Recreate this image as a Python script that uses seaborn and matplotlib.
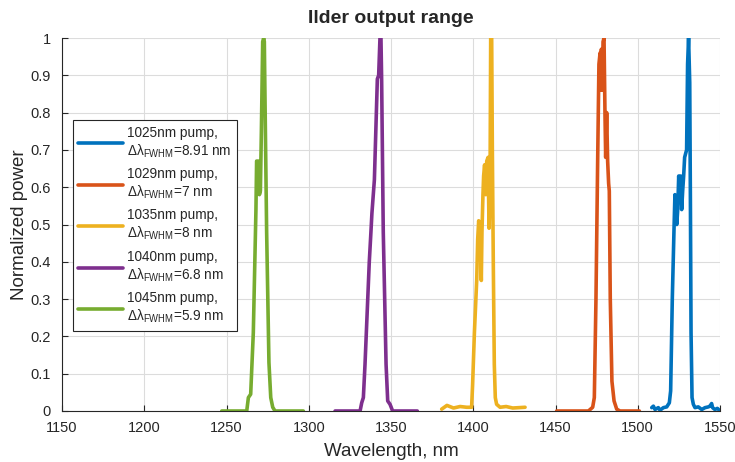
import numpy as np
import pandas as pd
import matplotlib.pyplot as plt
import seaborn as sns

# --- data (wavelength in nm, normalized power) ---
wl_1025 = [1508.5, 1509.5, 1510.5, 1512.5, 1513.5, 1515.6, 1517.6, 1519.2, 1520.0, 1521.0,
           1522.0, 1522.6, 1523.3, 1523.7, 1524.3, 1524.9, 1525.5, 1526.1, 1526.7, 1527.3,
           1527.9, 1528.5, 1529.1, 1529.7, 1530.3, 1530.9, 1531.6, 1532.0, 1532.4, 1533.0,
           1533.8, 1534.8, 1536.8, 1538.9, 1540.9, 1542.9, 1543.9, 1544.9, 1545.5, 1546.9,
           1548.4, 1549.6]
p_1025 = [0.009, 0.013, 0.004, 0.009, 0.002, 0.009, 0.011, 0.022, 0.054, 0.30,
          0.48, 0.58, 0.55, 0.50, 0.54, 0.63, 0.57, 0.63, 0.54, 0.59,
          0.63, 0.68, 0.69, 0.70, 0.93, 1.0, 0.88, 0.57, 0.21, 0.036,
          0.018, 0.009, 0.011, 0.004, 0.009, 0.011, 0.013, 0.02, 0.009, 0.004,
          0.007, 0.002]

wl_1029 = [1450.7, 1470.0, 1472.6, 1473.6, 1474.6, 1475.6, 1476.4, 1477.1, 1477.5, 1477.9,
           1478.5, 1478.9, 1479.5, 1480.1, 1480.5, 1481.1, 1481.7, 1482.3, 1482.7, 1483.3,
           1484.3, 1485.6, 1487.2, 1489.2, 1501.0]
p_1029 = [0, 0, 0.01, 0.036, 0.30, 0.66, 0.93, 0.96, 0.86, 0.97,
          0.86, 0.99, 1.0, 0.79, 0.68, 0.80, 0.67, 0.61, 0.59, 0.30,
          0.08, 0.027, 0.005, 0, 0]

wl_1035 = [1380.8, 1384.0, 1388.0, 1392.0, 1396.0, 1399.0, 1399.6, 1400.7, 1402.1, 1402.7,
           1403.3, 1404.1, 1404.9, 1405.3, 1405.9, 1406.3, 1406.9, 1407.6, 1408.2, 1409.0,
           1409.6, 1410.2, 1410.6, 1411.2, 1411.6, 1412.2, 1412.8, 1413.4, 1414.2, 1416.3,
           1420.0, 1424.0, 1431.5]
p_1035 = [0.005, 0.015, 0.008, 0.012, 0.01, 0.01, 0.07, 0.21, 0.35, 0.46,
          0.51, 0.48, 0.35, 0.48, 0.58, 0.63, 0.66, 0.58, 0.67, 0.68,
          0.49, 0.60, 1.0, 1.0, 0.71, 0.39, 0.125, 0.036, 0.018, 0.01,
          0.012, 0.008, 0.01]

wl_1040 = [1316.0, 1331.2, 1332.2, 1333.2, 1334.2, 1336.8, 1337.8, 1338.4, 1339.9, 1340.5,
           1341.7, 1342.5, 1343.3, 1343.9, 1344.3, 1345.3, 1347.0, 1348.0, 1349.4, 1351.0,
           1366.0]
p_1040 = [0, 0, 0.022, 0.036, 0.125, 0.40, 0.48, 0.53, 0.62, 0.71,
          0.89, 0.90, 1.0, 1.0, 0.89, 0.48, 0.125, 0.027, 0.018, 0,
          0]

wl_1045 = [1247.1, 1262.3, 1263.3, 1264.7, 1266.3, 1267.9, 1268.3, 1269.4, 1270.0, 1270.6,
           1271.2, 1272.0, 1272.6, 1273.0, 1273.4, 1274.4, 1275.8, 1276.9, 1278.1, 1279.5,
           1296.7]
p_1045 = [0, 0, 0.036, 0.045, 0.21, 0.54, 0.67, 0.67, 0.58, 0.59,
          0.75, 0.99, 1.0, 0.99, 0.84, 0.48, 0.13, 0.036, 0.01, 0,
          0]

labels = [
    '1025nm pump,\n$\\mathrm{\\Delta\\lambda}_{\\mathrm{FWHM}}$=8.91 nm',
    '1029nm pump,\n$\\mathrm{\\Delta\\lambda}_{\\mathrm{FWHM}}$=7 nm',
    '1035nm pump,\n$\\mathrm{\\Delta\\lambda}_{\\mathrm{FWHM}}$=8 nm',
    '1040nm pump,\n$\\mathrm{\\Delta\\lambda}_{\\mathrm{FWHM}}$=6.8 nm',
    '1045nm pump,\n$\\mathrm{\\Delta\\lambda}_{\\mathrm{FWHM}}$=5.9 nm',
]
colors = ['#0072BD', '#D95319', '#EDB120', '#7E2F8E', '#77AC30']

series = [(wl_1025, p_1025), (wl_1029, p_1029), (wl_1035, p_1035),
          (wl_1040, p_1040), (wl_1045, p_1045)]
frames = []
for lab, (wl, p) in zip(labels, series):
    frames.append(pd.DataFrame({'Wavelength': wl, 'Power': p, 'Pump': lab}))
df = pd.concat(frames, ignore_index=True)

# --- style ---
sns.set_theme(style="whitegrid")
plt.rcParams['font.family'] = ['Liberation Sans', 'DejaVu Sans']
plt.rcParams['mathtext.fontset'] = 'custom'
plt.rcParams['mathtext.rm'] = 'Liberation Sans'
plt.rcParams['mathtext.it'] = 'Liberation Sans:italic'

fig = plt.figure(figsize=(7.35, 4.62), dpi=100)
ax = fig.add_axes([62 / 735, 51 / 462, 658 / 735, 373 / 462])
ax.set_facecolor('white')

sns.lineplot(data=df, x='Wavelength', y='Power', hue='Pump', hue_order=labels,
             palette=colors, linewidth=2.6, estimator=None, sort=False, ax=ax)

ax.set_xlim(1150, 1550)
ax.set_ylim(0, 1)
ax.set_xticks(np.arange(1150, 1551, 50))
yt = np.round(np.arange(0, 1.01, 0.1), 1)
ax.set_yticks(yt)
ax.set_yticklabels([f'{v:g}' for v in yt])

ax.grid(True, color='#dcdcdc', linewidth=0.8)
for s in ['top', 'right']:
    ax.spines[s].set_visible(False)
for s in ['bottom', 'left']:
    ax.spines[s].set_color('#262626')
    ax.spines[s].set_linewidth(0.8)
ax.tick_params(direction='in', length=4, width=0.8, colors='#262626',
               labelsize=10.5, left=True, bottom=True)
ax.tick_params(axis='x', pad=7)
ax.tick_params(axis='y', pad=8)

ax.set_title('Ilder output range', fontsize=14, fontweight='bold', pad=11)
ax.set_xlabel('Wavelength, nm', fontsize=13.5, color='#262626', labelpad=6)
ax.set_ylabel('Normalized power', fontsize=13.5, color='#262626', labelpad=2)

handles, lbls = ax.get_legend_handles_labels()
leg = ax.legend(handles, lbls, loc='upper left', bbox_to_anchor=(0.016, 0.78),
                borderaxespad=0, fontsize=9.8, frameon=True, fancybox=False,
                edgecolor='#262626', framealpha=1, handlelength=3.3,
                handletextpad=0.3, labelspacing=0.55, borderpad=0.4)
leg.get_frame().set_linewidth(0.8)

fig.savefig('out.png', dpi=100)
